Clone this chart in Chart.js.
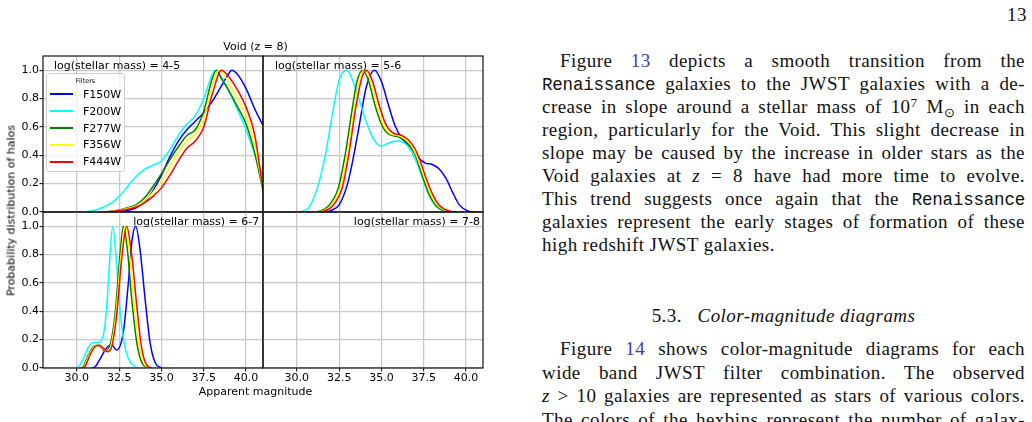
<!DOCTYPE html>
<html>
<head>
<meta charset="utf-8">
<title>Void (z = 8)</title>
<script src="https://cdn.jsdelivr.net/npm/chart.js@4.4.1/dist/chart.umd.min.js"></script>
<style>
  html, body { margin: 0; padding: 0; background: #fff; }
  body { position: relative; width: 1032px; height: 422px; overflow: hidden; }
  canvas.panel { position: absolute; }
  .fig-text { position: absolute; font: 11px "DejaVu Sans", sans-serif; color: #000; line-height: 13px; white-space: nowrap; }
  #legend { position: absolute; left: 46px; top: 73px; width: 79px; height: 99px; box-sizing: border-box;
    border: 1px solid #cccccc; border-radius: 3px; background: rgba(255, 255, 255, 0.8); font-family: "DejaVu Sans", sans-serif; }
  #legend .title { position: absolute; left: 0; right: 0; top: 2.5px; font-size: 6.5px; line-height: 9px; text-align: center; color: #000; }
  #legend .row { position: absolute; left: 0; right: 0; height: 17px; line-height: 17px; font-size: 11px; color: #000; }
  #legend .swatch { position: absolute; left: 3px; width: 23px; top: 7.5px; height: 2px; }
  #legend .name { position: absolute; left: 36px; top: 0; }
  .ln { position: absolute; left: 542px; white-space: nowrap; font: 19px "Liberation Serif", serif; line-height: 24px;
    letter-spacing: 0.45px; color: #111; }
  .ind { left: 560px; }
  .tt { font-family: "Liberation Mono", monospace; font-size: 17.5px; letter-spacing: -0.2px; }
  .ref { color: #3d3da8; }
  .sup { position: relative; top: -0.45em; font-size: 0.7em; }
  .sub { position: relative; top: 0.3em; font-size: 0.7em; }
</style>
</head>
<body>

<canvas id="p45" class="panel" width="265" height="172" style="left:0;top:50px"></canvas>
<canvas id="p56" class="panel" width="224" height="172" style="left:261px;top:50px"></canvas>
<canvas id="p67" class="panel" width="265" height="184" style="left:0;top:206px"></canvas>
<canvas id="p78" class="panel" width="224" height="184" style="left:261px;top:206px"></canvas>

<div class="fig-text" style="left:0;width:511px;top:40.3px;text-align:center">Void (z = 8)</div>
<div class="fig-text" style="left:0;width:511px;top:385.2px;text-align:center">Apparent magnitude</div>
<div class="fig-text" style="left:-89.1px;top:203.5px;width:200px;text-align:center;transform:rotate(-90deg)">Probability distribution of halos</div>
<div id="legend"><div class="title">Filters</div></div>

<div class="ln" style="left:auto;right:5px;top:2.6px">13</div>

<div class="ln ind j" style="top:49.3px">Figure <span class="ref">13</span> depicts a smooth transition from the</div>
<div class="ln j" style="top:72.2px"><span class="tt">Renaissance</span> galaxies to the JWST galaxies with a de-</div>
<div class="ln j" style="top:95.1px">crease in slope around a stellar mass of 10<span class="sup">7</span> M<span class="sub">⊙</span> in each</div>
<div class="ln j" style="top:118px">region, particularly for the Void. This slight decrease in</div>
<div class="ln j" style="top:140.9px">slope may be caused by the increase in older stars as the</div>
<div class="ln j" style="top:163.8px">Void galaxies at <i>z</i> = 8 have had more time to evolve.</div>
<div class="ln j" style="top:186.7px">This trend suggests once again that the <span class="tt">Renaissance</span></div>
<div class="ln j" style="top:209.6px">galaxies represent the early stages of formation of these</div>
<div class="ln" style="top:232.5px">high redshift JWST galaxies.</div>

<div class="ln" style="top:304.3px;width:483px;text-align:center">5.3.&nbsp;&nbsp; <i>Color-magnitude diagrams</i></div>

<div class="ln ind j" style="top:337.4px">Figure <span class="ref">14</span> shows color-magnitude diagrams for each</div>
<div class="ln j" style="top:360.7px">wide band JWST filter combination. The observed</div>
<div class="ln j" style="top:384.2px"><i>z</i> &gt; 10 galaxies are represented as stars of various colors.</div>
<div class="ln j" style="top:407.5px">The colors of the hexbins represent the number of galax-</div>

<script>
// filters and their line colours
const filters = ["F150W", "F200W", "F277W", "F356W", "F444W"];
const filterColors = ["#0000ff", "#00ffff", "#008000", "#ffff00", "#ff0000"];

// axis ticks
const magTicks = { min: 28, max: 41, step: 2.5 };
const probTicks = { min: 0, max: 1.1, step: 0.2 };

// log(stellar mass) = 4-5, [apparent magnitude, probability]
const mass45_F150W = [[32.5, 0], [33, 0.01], [33.5, 0.03], [34, 0.07], [34.5, 0.15], [35, 0.26], [35.5, 0.39], [36, 0.5],
  [36.5, 0.58], [37, 0.64], [37.5, 0.7], [38, 0.78], [38.5, 0.88], [39, 0.98], [39.15, 1.0], [39.5, 0.97], [40, 0.87],
  [40.5, 0.73], [41, 0.61]];
const mass45_F200W = [[30.5, 0], [31, 0.01], [31.5, 0.03], [32, 0.06], [32.5, 0.11], [33, 0.18], [33.5, 0.25], [34, 0.3],
  [34.5, 0.33], [35, 0.36], [35.5, 0.44], [36, 0.54], [36.5, 0.62], [37, 0.68], [37.5, 0.8], [38, 0.97], [38.2, 1.0],
  [38.5, 0.96], [39, 0.85], [39.5, 0.72], [40, 0.58], [40.5, 0.41], [41, 0.26]];
const mass45_F277W = [[31.5, 0], [32, 0.005], [32.5, 0.015], [33, 0.03], [33.5, 0.05], [34, 0.1], [34.5, 0.18], [35, 0.27],
  [35.5, 0.37], [36, 0.46], [36.5, 0.54], [37, 0.58], [37.5, 0.71], [38, 0.94], [38.25, 1.0], [38.5, 0.95], [39, 0.85],
  [39.5, 0.74], [40, 0.62], [40.5, 0.42], [41, 0.15]];
const mass45_F356W = [[31.7, 0], [32, 0.004], [32.5, 0.012], [33, 0.025], [33.5, 0.042], [34, 0.08], [34.5, 0.14], [35, 0.22],
  [35.5, 0.32], [36, 0.42], [36.5, 0.5], [37, 0.55], [37.5, 0.66], [38, 0.89], [38.4, 1.0], [38.7, 0.97], [39, 0.9],
  [39.5, 0.8], [40, 0.68], [40.5, 0.48], [41, 0.16]];
const mass45_F444W = [[31.8, 0], [32, 0.003], [32.5, 0.01], [33, 0.02], [33.5, 0.035], [34, 0.065], [34.5, 0.11], [35, 0.17],
  [35.5, 0.26], [36, 0.36], [36.5, 0.45], [37, 0.5], [37.5, 0.6], [38, 0.83], [38.55, 1.0], [39, 0.95], [39.5, 0.86],
  [40, 0.74], [40.5, 0.55], [41, 0.16]];

// log(stellar mass) = 5-6
const mass56_F150W = [[31.5, 0], [32, 0.01], [32.5, 0.05], [33, 0.2], [33.3, 0.36], [33.7, 0.62], [34.1, 0.88], [34.6, 1.0],
  [35, 0.92], [35.4, 0.76], [35.8, 0.61], [36.2, 0.52], [36.7, 0.46], [37.2, 0.38], [37.6, 0.345], [38, 0.335],
  [38.4, 0.305], [38.8, 0.24], [39.2, 0.14], [39.6, 0.05], [40.1, 0.008], [40.5, 0]];
const mass56_F200W = [[30.2, 0], [30.7, 0.03], [31.1, 0.13], [31.4, 0.25], [31.7, 0.41], [32.1, 0.69], [32.5, 0.93],
  [32.95, 1.0], [33.45, 0.88], [34, 0.67], [34.5, 0.52], [35, 0.465], [35.5, 0.49], [36, 0.5], [36.5, 0.47], [37, 0.37],
  [37.4, 0.25], [37.8, 0.12], [38.2, 0.04], [38.7, 0.005], [39.1, 0]];
const mass56_F277W = [[31.2, 0], [31.85, 0.04], [32.45, 0.17], [32.85, 0.4], [33.25, 0.71], [33.55, 0.92], [33.9, 1.0],
  [34.25, 0.92], [34.6, 0.76], [35, 0.62], [35.4, 0.55], [36, 0.53], [36.6, 0.48], [37, 0.4], [37.4, 0.26], [37.8, 0.13],
  [38.2, 0.05], [38.8, 0.007], [39.2, 0]];
const mass56_F356W = [[31.3, 0], [32, 0.04], [32.6, 0.18], [33, 0.42], [33.4, 0.73], [33.7, 0.93], [34.0, 1.0],
  [34.35, 0.93], [34.7, 0.77], [35.1, 0.62], [35.5, 0.555], [36.1, 0.535], [36.7, 0.48], [37.1, 0.39], [37.5, 0.255],
  [37.9, 0.13], [38.3, 0.05], [38.9, 0.007], [39.3, 0]];
const mass56_F444W = [[31.4, 0], [32.1, 0.04], [32.7, 0.18], [33.1, 0.43], [33.5, 0.75], [33.85, 0.95], [34.1, 1.0],
  [34.45, 0.93], [34.85, 0.76], [35.25, 0.62], [35.65, 0.56], [36.2, 0.54], [36.8, 0.48], [37.2, 0.39], [37.6, 0.25],
  [38, 0.13], [38.4, 0.05], [39, 0.007], [39.4, 0]];

// log(stellar mass) = 6-7
const mass67_F150W = [[30.9, 0], [31.1, 0.01], [31.4, 0.07], [31.75, 0.14], [32.05, 0.165], [32.35, 0.127], [32.75, 0.255],
  [33.05, 0.61], [33.25, 0.89], [33.48, 1.0], [33.73, 0.84], [34.03, 0.49], [34.32, 0.185], [34.62, 0.04], [35.0, 0]];
const mass67_F200W = [[29.95, 0], [30.1, 0.01], [30.4, 0.07], [30.7, 0.15], [30.97, 0.18], [31.27, 0.18], [31.56, 0.23],
  [31.76, 0.42], [31.92, 0.725], [32.12, 1.0], [32.31, 0.795], [32.51, 0.467], [32.75, 0.209], [33.04, 0.068],
  [33.44, 0.009], [33.7, 0]];
const mass67_F277W = [[30.2, 0], [30.38, 0.01], [30.68, 0.092], [30.97, 0.15], [31.21, 0.16], [31.47, 0.14], [31.66, 0.12],
  [31.96, 0.16], [32.25, 0.37], [32.55, 0.796], [32.75, 1.0], [32.98, 0.843], [33.24, 0.49], [33.54, 0.18],
  [33.83, 0.04], [34.22, 0]];
const mass67_F356W = [[30.25, 0], [30.43, 0.01], [30.72, 0.091], [31.02, 0.15], [31.27, 0.16], [31.52, 0.14], [31.73, 0.118],
  [32.01, 0.155], [32.3, 0.37], [32.6, 0.78], [32.87, 1.0], [33.1, 0.82], [33.38, 0.47], [33.68, 0.16], [33.98, 0.03],
  [34.3, 0]];
const mass67_F444W = [[30.3, 0], [30.48, 0.01], [30.77, 0.09], [31.07, 0.15], [31.33, 0.16], [31.56, 0.14], [31.8, 0.115],
  [32.06, 0.15], [32.35, 0.37], [32.65, 0.77], [32.94, 1.0], [33.24, 0.8], [33.54, 0.44], [33.83, 0.14], [34.13, 0.02],
  [34.42, 0]];

// log(stellar mass) = 7-8 has no halos
const mass78_empty = [];

const panels = [
  { id: "p45", label: "log(stellar mass) = 4-5", align: "left", dx: 11, xLabels: false, yLabels: true,
    padding: { top: 6, left: 0, right: 2, bottom: 10 },
    sets: [mass45_F150W, mass45_F200W, mass45_F277W, mass45_F356W, mass45_F444W] },
  { id: "p56", label: "log(stellar mass) = 5-6", align: "left", dx: 12, xLabels: false, yLabels: false,
    padding: { top: 6, left: 2, right: 2, bottom: 10 },
    sets: [mass56_F150W, mass56_F200W, mass56_F277W, mass56_F356W, mass56_F444W] },
  { id: "p67", label: "log(stellar mass) = 6-7", align: "right", dx: 3.7, xLabels: true, yLabels: true,
    padding: { top: 6, left: 0, right: 2, bottom: 0 },
    sets: [mass67_F150W, mass67_F200W, mass67_F277W, mass67_F356W, mass67_F444W] },
  { id: "p78", label: "log(stellar mass) = 7-8", align: "right", dx: 3, xLabels: true, yLabels: false,
    padding: { top: 6, left: 2, right: 2, bottom: 0 },
    sets: [mass78_empty, mass78_empty, mass78_empty, mass78_empty, mass78_empty] },
];

Chart.defaults.font.family = '"DejaVu Sans", sans-serif';
Chart.defaults.font.size = 11;
Chart.defaults.color = "#000";

// spines on all four sides + the mass label in the corner
const panelFrame = {
  id: "panelFrame",
  afterDatasetsDraw(chart, args, opts) {
    const { ctx, chartArea: a } = chart;
    ctx.save();
    ctx.strokeStyle = "#111";
    ctx.lineWidth = 1.2;
    ctx.strokeRect(a.left, a.top, a.right - a.left, a.bottom - a.top);
    ctx.font = '11px "DejaVu Sans"';
    ctx.fillStyle = "#000";
    ctx.textAlign = opts.align;
    ctx.textBaseline = "alphabetic";
    const x = opts.align === "left" ? a.left + opts.dx : a.right - opts.dx;
    ctx.fillText(opts.label, x, a.top + 13.3);
    ctx.restore();
  },
};

const gridStyle = (showTicks) => ({
  color: "#c8c8c8",
  lineWidth: 1.3,
  drawTicks: showTicks,
  tickLength: 3.5,
  tickColor: "#000",
  tickWidth: 1,
});

const makePanel = (p) =>
  new Chart(document.getElementById(p.id), {
    type: "line",
    data: {
      datasets: filters.map((name, i) => ({
        label: name,
        data: p.sets[i].map(([x, y]) => ({ x, y })),
        borderColor: filterColors[i],
        borderWidth: 1.5,
        pointRadius: 0,
        fill: false,
        cubicInterpolationMode: "monotone",
        order: filters.length - 1 - i,
      })),
    },
    options: {
      responsive: false,
      animation: false,
      events: [],
      layout: { padding: p.padding },
      plugins: {
        legend: { display: false },
        tooltip: { enabled: false },
        panelFrame: { label: p.label, align: p.align, dx: p.dx },
      },
      scales: {
        x: {
          type: "linear",
          min: magTicks.min,
          max: magTicks.max,
          border: { display: false },
          grid: gridStyle(p.xLabels),
          ticks: {
            display: p.xLabels,
            stepSize: magTicks.step,
            includeBounds: false,
            autoSkip: false,
            maxRotation: 0,
            padding: 0,
            callback: (v) => v.toFixed(1),
          },
          afterFit: (scale) => {
            scale.height = p.xLabels ? 22 : 0;
            scale.paddingLeft = 0;
            scale.paddingRight = 0;
          },
        },
        y: {
          type: "linear",
          min: probTicks.min,
          max: probTicks.max,
          border: { display: false },
          grid: gridStyle(p.yLabels),
          ticks: {
            display: p.yLabels,
            stepSize: probTicks.step,
            includeBounds: false,
            padding: 0.5,
            callback: (v) => v.toFixed(1),
          },
          afterFit: (scale) => {
            scale.width = p.yLabels ? 43 : 0;
            scale.paddingTop = 0;
            scale.paddingBottom = 0;
          },
        },
      },
    },
    plugins: [panelFrame],
  });

const charts = panels.map(makePanel);

// legend box, built from the first panel's datasets
const buildLegend = (chart) => {
  const legend = document.getElementById("legend");
  chart.data.datasets.forEach((dataset, index) => {
    const row = document.createElement("div");
    row.className = "row";
    row.style.top = 11.8 + index * 16.85 + "px";
    const swatch = document.createElement("div");
    swatch.className = "swatch";
    swatch.style.backgroundColor = filterColors[index];
    const name = document.createElement("span");
    name.className = "name";
    name.appendChild(document.createTextNode(dataset.label));
    row.appendChild(swatch);
    row.appendChild(name);
    legend.appendChild(row);
  });
};
buildLegend(charts[0]);

// stretch each justified text line to the column edge
const colRight = 1025;
document.querySelectorAll(".ln.j").forEach((el) => {
  const left = el.offsetLeft;
  const natural = el.getBoundingClientRect().width;
  const gaps = (el.textContent.match(/ /g) || []).length;
  if (gaps) el.style.wordSpacing = (colRight - left - natural) / gaps + "px";
});
</script>
</body>
</html>
